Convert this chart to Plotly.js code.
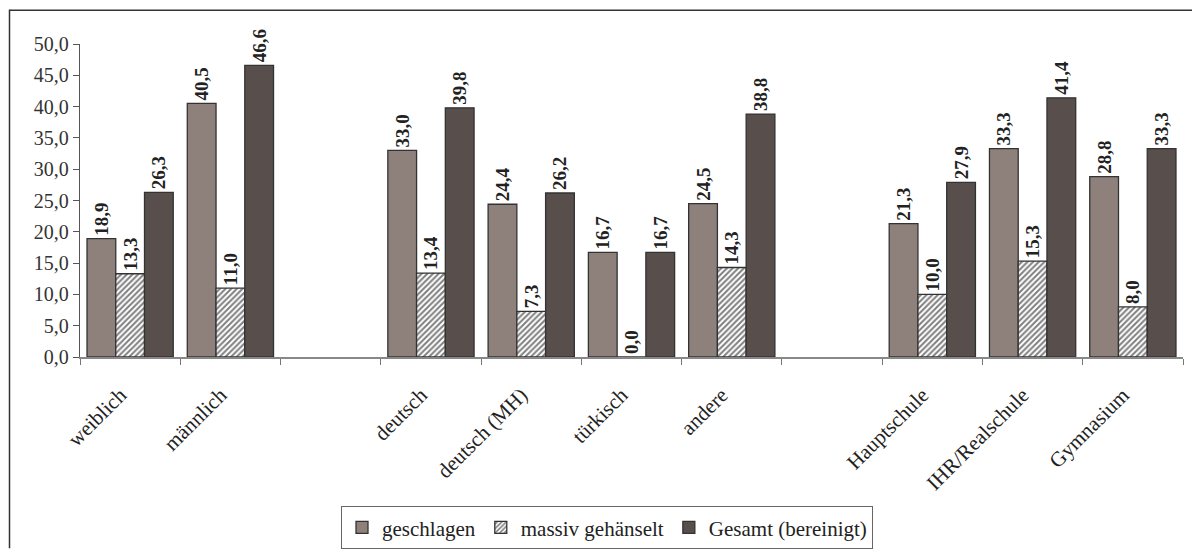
<!DOCTYPE html>
<html>
<head>
<meta charset="utf-8">
<script src="https://cdn.plot.ly/plotly-3.0.1.min.js"></script>
<style>html,body{margin:0;padding:0;background:#fff;}#chart{width:1192px;height:558px;}</style>
</head>
<body>
<div id="chart"></div>
<script>
// Category order on the axis (two empty slots separate the groups)
var axisCategories = ["weiblich", "männlich", " ", "deutsch", "deutsch (MH)", "türkisch", "andere", "  ", "Hauptschule", "IHR/Realschule", "Gymnasium"];
var categories = ["weiblich", "männlich", "deutsch", "deutsch (MH)", "türkisch", "andere", "Hauptschule", "IHR/Realschule", "Gymnasium"];
var seriesNames = ["geschlagen", "massiv gehänselt", "Gesamt (bereinigt)"];
var geschlagen = [18.9, 40.5, 33.0, 24.4, 16.7, 24.5, 21.3, 33.3, 28.8];
var massivGehaenselt = [13.3, 11.0, 13.4, 7.3, 0.0, 14.3, 10.0, 15.3, 8.0];
var gesamt = [26.3, 46.6, 39.8, 26.2, 16.7, 38.8, 27.9, 41.4, 33.3];
var yTickVals = [0, 5, 10, 15, 20, 25, 30, 35, 40, 45, 50];

var serif = "Liberation Serif, Times New Roman, serif";
var labelFont = {family: serif, size: 19, color: "#222"};

function barTrace(name, values, marker) {
  return {
    type: "bar",
    name: name,
    x: categories,
    y: values,
    marker: marker,
    texttemplate: "<b>%{y:.1f}</b>",
    textposition: "outside",
    textangle: -90,
    constraintext: "none",
    cliponaxis: false,
    textfont: labelFont,
    hoverinfo: "x+y"
  };
}

var traces = [
  barTrace(seriesNames[0], geschlagen, {color: "#8e817c", line: {color: "#333", width: 1.3}}),
  barTrace(seriesNames[1], massivGehaenselt, {
    color: "#ffffff",
    line: {color: "#333", width: 1.3},
    pattern: {shape: "/", bgcolor: "#ffffff", fgcolor: "#000", size: 4, solidity: 0.5, fillmode: "overlay"}
  }),
  barTrace(seriesNames[2], gesamt, {color: "#584e4b", line: {color: "#333", width: 1.3}})
];

var L = 80, R = 1183, T = 44, B = 363;
var pw = R - L, ph = B - T;
function px(x) { return (x - L) / pw; }
function py(y) { return (B - y) / ph; }

var layout = {
  width: 1192,
  height: 558,
  margin: {l: L, r: 1192 - R, t: T, b: 558 - B, pad: 0},
  paper_bgcolor: "#ffffff",
  plot_bgcolor: "#ffffff",
  barmode: "group",
  bargap: 0.14,
  bargroupgap: 0,
  separators: ",.",
  font: {family: serif, color: "#222"},
  showlegend: true,
  legend: {
    orientation: "h",
    x: px(607), xanchor: "center",
    y: py(537), yanchor: "middle",
    bordercolor: "#666", borderwidth: 1,
    font: {family: serif, size: 21, color: "#222"},
    itemwidth: 30,
    tracegroupgap: 0
  },
  xaxis: {
    type: "category",
    categoryorder: "array",
    categoryarray: axisCategories,
    range: [-0.5, axisCategories.length - 0.5],
    tickson: "boundaries",
    ticks: "outside",
    ticklen: 6,
    tickcolor: "#777",
    showline: true,
    linecolor: "#888",
    linewidth: 1.5,
    tickangle: -45,
    ticklabelstandoff: 16,
    ticklabelshift: -10,
    tickfont: {family: serif, size: 21, color: "#222"},
    showgrid: false,
    zeroline: false,
    fixedrange: true
  },
  yaxis: {
    range: [0, 50],
    tickvals: yTickVals,
    tickformat: ".1f",
    ticks: "outside",
    ticklen: 6,
    tickcolor: "#555",
    showline: true,
    linecolor: "#555",
    linewidth: 1.2,
    tickfont: {family: serif, size: 20, color: "#333"},
    showgrid: false,
    zeroline: false,
    fixedrange: true
  },
  shapes: [
    {type: "line", xref: "paper", yref: "paper", x0: px(9), x1: px(1192), y0: py(9.5), y1: py(9.5), line: {color: "#333", width: 1.5}},
    {type: "line", xref: "paper", yref: "paper", x0: px(9.5), x1: px(9.5), y0: py(9), y1: py(558), line: {color: "#333", width: 1.5}}
  ]
};

Plotly.newPlot("chart", traces, layout, {displayModeBar: false, staticPlot: true});
</script>
</body>
</html>
